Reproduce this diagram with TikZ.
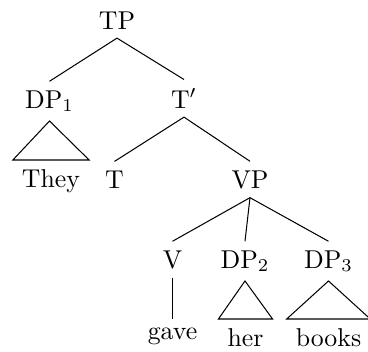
\documentclass[tikz,border=0pt]{standalone}
\begin{document}
\begin{tikzpicture}[x=0.3876pt,y=-0.3876pt,
  lab/.style={anchor=base, inner sep=3.33pt},
  leaf/.style={anchor=north, inner sep=3.33pt},
  edge/.style={draw=black, line width=0.4pt}]
\useasboundingbox (0,0) rectangle (368,352);
\node[lab] (tp) at (117,29) {TP};
\node[lab] (dp1) at (49.5,108) {DP$_1$};
\node[lab] (tbar) at (184,108) {T$'$};
\node[leaf] (they) at (51,160) {They};
\node[lab] (t) at (114.5,188) {T};
\node[lab] (vp) at (250,188) {VP};
\node[lab] (v) at (172.5,268) {V};
\node[lab] (dp2) at (245,268) {DP$_2$};
\node[lab] (dp3) at (328.5,268) {DP$_3$};
\node[leaf] (gave) at (172.5,319) {gave};
\node[leaf] (her) at (245.5,319) {her};
\node[leaf] (books) at (328.5,319) {books};
\draw[edge] (tp.south) -- (dp1.north);
\draw[edge] (tp.south) -- (tbar.north);
\draw[edge] (dp1.south) -- (they.north west) -- (they.north east) -- cycle;
\draw[edge] (tbar.south) -- (t.north);
\draw[edge] (tbar.south) -- (vp.north);
\draw[edge] (vp.south) -- (v.north);
\draw[edge] (vp.south) -- (dp2.north);
\draw[edge] (vp.south) -- (dp3.north);
\draw[edge] (v.south) -- (gave.north);
\draw[edge] (dp2.south) -- (her.north west) -- (her.north east) -- cycle;
\draw[edge] (dp3.south) -- (books.north west) -- (books.north east) -- cycle;
\end{tikzpicture}
\end{document}
